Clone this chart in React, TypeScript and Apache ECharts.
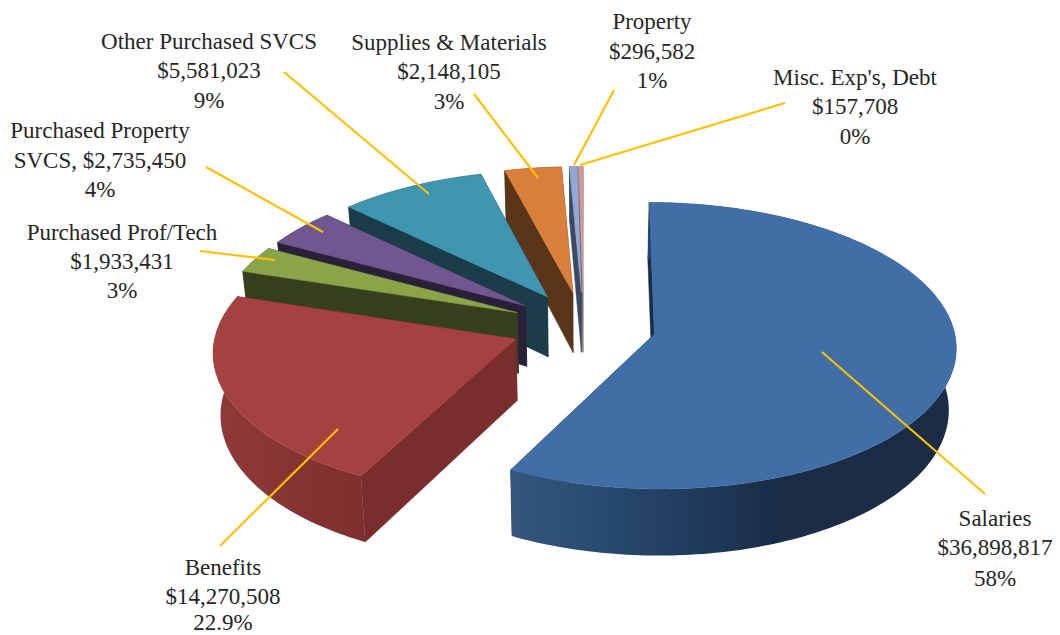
import React, { useEffect, useRef } from "react";
import * as echarts from "echarts";

const categories = ["Salaries", "Benefits", "Purchased Prof/Tech", "Purchased Property SVCS", "Other Purchased SVCS", "Supplies & Materials", "Property", "Misc. Exp's, Debt"];
const values = [36898817, 14270508, 1933431, 2735450, 5581023, 2148105, 296582, 157708];
const labelLines = [
  ["Salaries", "$36,898,817", "58%"],
  ["Benefits", "$14,270,508", "22.9%"],
  ["Purchased Prof/Tech", "$1,933,431", "3%"],
  ["Purchased Property", "SVCS, $2,735,450", "4%"],
  ["Other Purchased SVCS", "$5,581,023", "9%"],
  ["Supplies & Materials", "$2,148,105", "3%"],
  ["Property", "$296,582", "1%"],
  ["Misc. Exp's, Debt", "$157,708", "0%"],
];
const topColors = ["#3F6FA6", "#A54241", "#8AA548", "#71578F", "#3F96B0", "#D97F3B", "#92A9D3", "#D19A99"];
const wallColors = ["#1A2C46", "#7A2D2D", "#37401E", "#2B2039", "#1B3D49", "#5A351A", "#3A4A65", "#8A6A6A"];
const labelCenters = [[995, 518, 547, 578], [223, 567, 596, 622], [122, 232, 261, 290], [100, 130, 160, 189], [209, 41, 70, 100], [449, 42, 71, 101], [652, 21, 51, 80], [855, 77, 106, 136]];
const leaders = [[822, 352, 985, 494], [338, 429, 220, 546], [275, 260, 200, 251], [323, 232, 206, 167], [429, 194, 284, 72], [538, 178, 474, 94], [574, 165, 614, 90], [580, 165, 785, 103]];

const CX = 583.5, CY = 326, A = 299, B = 141, K = 0.08, H = 61, EXPLODE = 0.243, BOTTOM_SHRINK = 0.98;
const total = values.reduce((a, b) => a + b, 0);
const FONT = "'Liberation Serif', serif";

function project(X: number, Y: number, bottom: boolean): number[] {
  const s = 1 / (1 + K * Y);
  let sx = CX + A * X * s;
  let sy = CY - B * Y * s;
  if (bottom) {
    sx = CX + (sx - CX) * BOTTOM_SHRINK;
    sy += H * s;
  }
  return [sx, sy];
}

function sliceShapes(i: number) {
  let acc = 0;
  for (let j = 0; j < i; j++) acc += values[j];
  const a0 = (acc / total) * Math.PI * 2;
  const a1 = ((acc + values[i]) / total) * Math.PI * 2;
  const mid = (a0 + a1) / 2;
  const ox = Math.sin(mid) * EXPLODE;
  const oy = Math.cos(mid) * EXPLODE;
  const steps = Math.max(2, Math.ceil((a1 - a0) / 0.02));
  const arc: number[][] = [];
  for (let n = 0; n <= steps; n++) {
    const a = a0 + ((a1 - a0) * n) / steps;
    arc.push([ox + Math.sin(a), oy + Math.cos(a)]);
  }
  const apex = [ox, oy];
  const P = (p: number[], b: boolean) => project(p[0], p[1], b);
  const top = [P(apex, false), ...arc.map((p) => P(p, false))];
  const wallStart = [P(apex, false), P(arc[0], false), P(arc[0], true), P(apex, true)];
  const last = arc[arc.length - 1];
  const wallEnd = [P(apex, false), P(last, false), P(last, true), P(apex, true)];
  const outer = [...arc.map((p) => P(p, false)), ...arc.slice().reverse().map((p) => P(p, true))];
  return { top, wallStart, wallEnd, outer };
}

function outerFill(i: number) {
  if (i === 0) {
    return new echarts.graphic.LinearGradient(0, 0, 1, 0, [
      { offset: 0, color: "#34567F" },
      { offset: 0.2, color: "#2A4A70" },
      { offset: 0.38, color: "#203E60" },
      { offset: 0.6, color: "#1A2C46" },
      { offset: 1, color: "#1A2C46" },
    ]);
  }
  if (i === 1) {
    return new echarts.graphic.LinearGradient(0, 0, 1, 0, [
      { offset: 0, color: "#8F3A39" },
      { offset: 1, color: "#7E2F2E" },
    ]);
  }
  return wallColors[i];
}

function renderSlice(params: any) {
  const i = params.dataIndex;
  const s = sliceShapes(i);
  const base = (values.length - i) * 10;
  const poly = (points: number[][], fill: any, z2: number) => ({
    type: "polygon",
    shape: { points },
    z2,
    silent: true,
    style: { fill, stroke: typeof fill === "string" ? fill : "none", lineWidth: 0.5 },
  });
  return {
    type: "group",
    children: [
      poly(s.wallEnd, wallColors[i], base),
      poly(s.wallStart, wallColors[i], base + 1),
      poly(s.outer, outerFill(i), base + 2),
      poly(s.top, topColors[i], base + 3),
    ],
  };
}

function renderLabel(params: any) {
  const i = params.dataIndex;
  const [x1, y1, x2, y2] = leaders[i];
  const [cx, ...ys] = labelCenters[i];
  return {
    type: "group",
    children: [
      {
        type: "line",
        z2: 200,
        shape: { x1, y1, x2, y2 },
        style: { stroke: "#FFC000", lineWidth: 2.2 },
      },
      ...labelLines[i].map((t, n) => ({
        type: "text",
        z2: 201,
        style: {
          x: cx,
          y: ys[n],
          text: t,
          fill: "#262626",
          font: `23px ${FONT}`,
          textAlign: "center",
          textVerticalAlign: "middle",
        },
      })),
    ],
  };
}

export default function App() {
  const ref = useRef<HTMLDivElement>(null);
  useEffect(() => {
    const chart = echarts.init(ref.current!, null, { renderer: "svg" });
    const data = categories.map((name, i) => ({ name, value: values[i] }));
    chart.setOption({
      animation: false,
      backgroundColor: "#ffffff",
      series: [
        { type: "custom", coordinateSystem: "none", z: 2, silent: true, data, renderItem: renderSlice },
        { type: "custom", coordinateSystem: "none", z: 3, silent: true, data, renderItem: renderLabel },
      ],
    });
    return () => chart.dispose();
  }, []);
  return <div ref={ref} style={{ position: "absolute", left: 0, top: 0, width: 1060, height: 635 }} />;
}
